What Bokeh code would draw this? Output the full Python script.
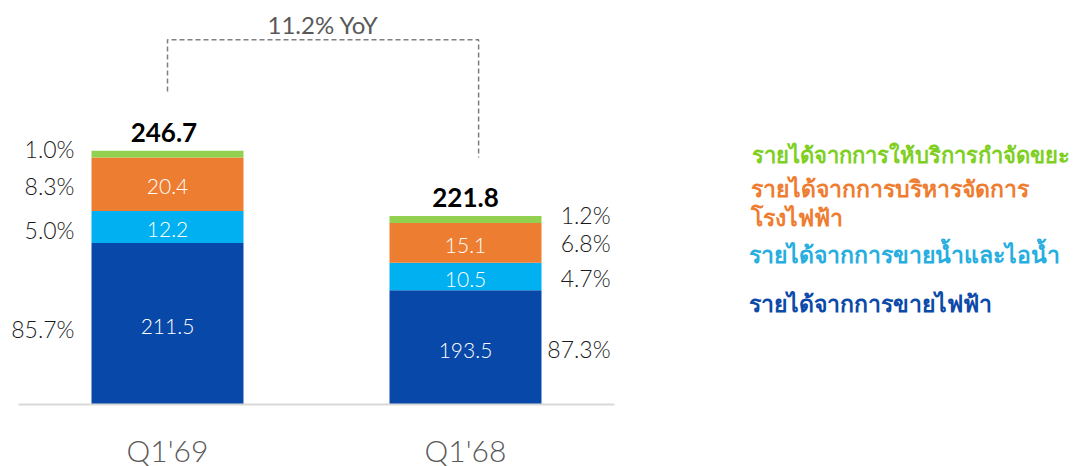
from bokeh.plotting import figure
from bokeh.models import FixedTicker, Range1d
from bokeh.core.properties import value
from bokeh.embed import file_html
from bokeh.resources import INLINE

# ---------------- data ----------------
categories = ["Q1'69", "Q1'68"]
power_sales = [211.5, 193.5]        # รายได้จากการขายไฟฟ้า
steam_water = [12.2, 10.5]          # รายได้จากการขายน้ำและไอน้ำ
plant_mgmt = [20.4, 15.1]           # รายได้จากการบริหารจัดการโรงไฟฟ้า
waste_mgmt = [2.6, 2.7]             # รายได้จากการให้บริการกำจัดขยะ
totals = [246.7, 221.8]
pct_power = ["85.7%", "87.3%"]
pct_water = ["5.0%", "4.7%"]
pct_mgmt = ["8.3%", "6.8%"]
pct_waste = ["1.0%", "1.2%"]
yoy_label = "11.2% YoY"
legend_names = [
    "รายได้จากการให้บริการกำจัดขยะ",
    "รายได้จากการบริหารจัดการ\nโรงไฟฟ้า",
    "รายได้จากการขายน้ำและไอน้ำ",
    "รายได้จากการขายไฟฟ้า",
]
axis_floor = 150.0

# ---------------- style ----------------
C_BLUE, C_CYAN, C_ORANGE, C_GREEN = "#0848a8", "#00b0f0", "#ed7d31", "#92d050"
L_GREEN, L_ORANGE, L_CYAN, L_BLUE = "#7ecf1f", "#ee7d31", "#27aee0", "#0b4aa8"
NUM_FONT = value("Lato Light")
THAI_FONT = value("Noto Sans")

W, H = 1078, 466
PX_X = 298.0           # px per category step
PX_Y = 2.625           # px per unit
x0 = -167 / PX_X
y0 = axis_floor - 62 / PX_Y
y1 = y0 + H / PX_Y


def ys(page_y):
    """screen row -> data y (for annotation placement only)"""
    return y1 - page_y / PX_Y


def xs_(page_x):
    return x0 + page_x / PX_X


p = figure(width=W, height=H, output_backend="svg", toolbar_location=None,
           x_range=Range1d(x0, x0 + W / PX_X), y_range=Range1d(y0, y1),
           min_border=0, min_border_left=0, min_border_right=0,
           min_border_top=0, min_border_bottom=0)
p.outline_line_color = None
p.xgrid.visible = False
p.ygrid.visible = False
p.yaxis.visible = False
p.background_fill_color = "white"

xs = list(range(len(categories)))
bw = 0.51

series = [power_sales, steam_water, plant_mgmt, waste_mgmt]
colors = [C_BLUE, C_CYAN, C_ORANGE, C_GREEN]
cum = [0.0] * len(xs)
centers = []
for k, (vals, col) in enumerate(zip(series, colors)):
    top = [c + v for c, v in zip(cum, vals)]
    bot = [axis_floor] * len(xs) if k == 0 else cum
    p.vbar(x=xs, bottom=bot, top=top, width=bw, fill_color=col, line_color=None)
    centers.append([(b + t) / 2 for b, t in zip(bot, top)])
    cum = top

# values inside bars
in_labels = [[f"{v:.1f}" for v in power_sales], [f"{v:.1f}" for v in steam_water],
             [f"{v:.1f}" for v in plant_mgmt]]
for labs, cy in zip(in_labels, centers[:3]):
    p.text(x=xs, y=[c - 1.0 for c in cy], text=labs, text_color="white", text_font=NUM_FONT,
           text_font_size="21px", text_align="center", text_baseline="middle")

# percent labels (pixel nudges, screen-down positive)
pcts = [pct_power, pct_water, pct_mgmt, pct_waste]
nudge_l = [5, 3, 2, -5]
nudge_r = [2, 1, 0, -5]
left_x = -0.312
right_x = 1.487
for lab, cy, nl, nr in zip(pcts, centers, nudge_l, nudge_r):
    p.text(x=[left_x], y=[cy[0] - nl / PX_Y], text=[lab[0]], text_color="#1a1a1a",
           text_font=NUM_FONT, text_font_size="23px", text_align="right", text_baseline="middle")
    p.text(x=[right_x], y=[cy[1] - nr / PX_Y], text=[lab[1]], text_color="#1a1a1a",
           text_font=NUM_FONT, text_font_size="23px", text_align="right", text_baseline="middle")

# totals
p.text(x=[xs[0] - 0.012, xs[1]], y=[t + 7.0 for t in totals], text=[f"{t:.1f}" for t in totals],
       text_color="black", text_font=value("Lato"), text_font_style="bold",
       text_font_size="26px", text_align="center", text_baseline="alphabetic")

# YoY bracket
bx_l, bx_r = xs[0], xs[1] + 0.044
b_top = max(totals) + 42.3
p.multi_line(xs=[[bx_l, bx_l, bx_r, bx_r]],
             ys=[[totals[0] + 22.5, b_top, b_top, totals[1] + 22.3]],
             line_color="#7f7f7f", line_width=1.5, line_dash="5 3")
p.text(x=[(bx_l + bx_r) / 2], y=[b_top + 5.8], text=[yoy_label], text_color="#595959",
       text_font=value("Lato"), text_font_size="24px", text_align="center", text_baseline="alphabetic")

# legend (coloured text), one text per line
leg_rows = [
    (legend_names[0], L_GREEN, 751, 153, "22px"),
    (legend_names[1].split("\n")[0], L_ORANGE, 750, 187, "23px"),
    (legend_names[1].split("\n")[1], L_ORANGE, 750, 216, "23px"),
    (legend_names[2], L_CYAN, 748, 253, "23px"),
    (legend_names[3], L_BLUE, 748, 302, "23px"),
]
for name, lc, px, py, fs in leg_rows:
    p.text(x=[xs_(px)], y=[ys(py)], text=[name], text_color=lc, text_font=THAI_FONT,
           text_font_size=fs, text_font_style="bold", text_align="left",
           text_baseline="middle")

# x axis at the baseline
p.xaxis.fixed_location = axis_floor
p.xaxis.bounds = (-0.5, 1.5)
p.xaxis.ticker = FixedTicker(ticks=xs)
p.xaxis.major_label_overrides = {i: c for i, c in zip(xs, categories)}
p.xaxis.major_label_text_font = "Lato Light"
p.xaxis.major_label_text_font_size = "30px"
p.xaxis.major_label_text_color = "#595959"
p.xaxis.major_label_standoff = 21
p.xaxis.major_tick_line_color = None
p.xaxis.minor_tick_line_color = None
p.xaxis.axis_line_color = "#d9d9d9"
p.xaxis.axis_line_width = 2

open("out.html", "w").write(file_html(p, INLINE))
